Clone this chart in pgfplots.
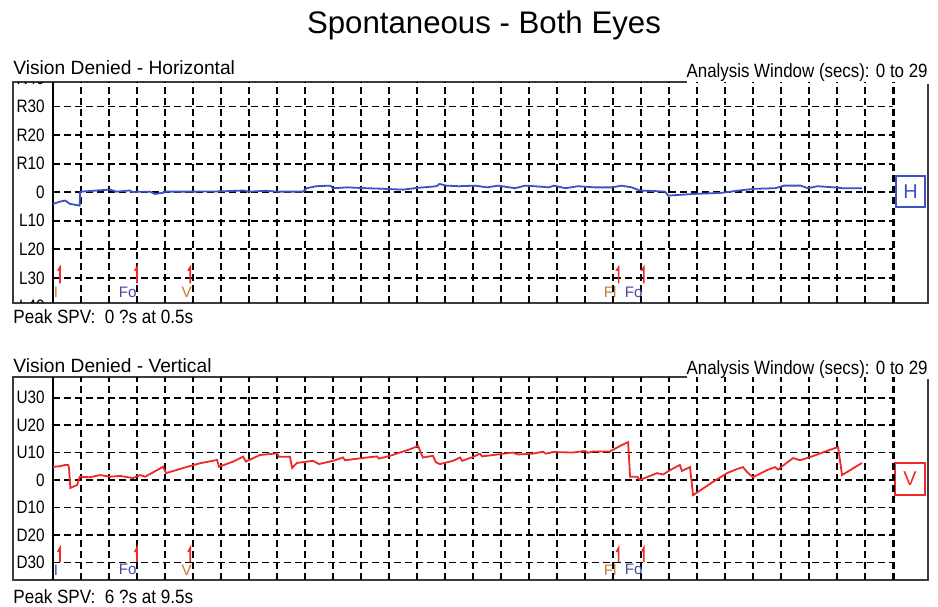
\documentclass[border=0pt]{standalone}
\usepackage{fontspec}
\setmainfont{Liberation Sans}
\usepackage{pgfplots}
\pgfplotsset{compat=1.18}
\definecolor{trblue}{RGB}{60,80,200}
\definecolor{trred}{RGB}{240,40,40}
\definecolor{evor}{RGB}{200,120,50}
\definecolor{evbl}{RGB}{70,70,160}
\definecolor{framegray}{RGB}{60,60,60}
\newcommand{\tickfont}{\fontsize{9}{10}\selectfont}
\newcommand{\evfont}{\fontsize{7.6}{8}\selectfont}
\newcommand{\labfont}{\fontsize{9.6}{11}\selectfont}
\pgfplotsset{panel/.style={
  scale only axis, xmin=0, xmax=30,
  xtick={1,...,29}, xticklabels={},
  ytick={-30,-20,...,30},
  grid=major,
  major grid style={black, line width=0.9pt, dash pattern=on 3.4pt off 2.1pt},
  major tick length=0pt,
  axis line style={draw=none},
  yticklabel style={font=\tickfont, anchor=east, xshift=-4pt, inner sep=0pt, xscale=0.85},
  clip=false,
  unbounded coords=jump,
}}
\begin{document}
\begin{tikzpicture}
\begin{scope}[x=0.5pt,y=0.5pt]
\path[use as bounding box] (0,0) rectangle (938,606);
% title
\node[font=\fontsize{15.6}{18}\selectfont] at (484,581) {Spontaneous - Both Eyes};
% ---------- top panel frame and texts
\draw[framegray, line width=0.75pt] (687,524) -- (13,524) -- (13,303) -- (928,303) -- (928,522);
\node[anchor=base west, font=\labfont, inner sep=0pt] at (13,531) {Vision Denied - Horizontal};
\node[anchor=base east, font=\labfont, inner sep=0pt, xscale=0.88] at (928,528) {Analysis Window (secs): 0 to 29};
\node[anchor=base west, font=\labfont, inner sep=0pt, xscale=0.89] at (13,282) {Peak SPV:\ \ 0 ?s at 0.5s};
\draw[trblue, line width=0.8pt] (896,430) rectangle (925,399);
\node[text=trblue, font=\fontsize{10}{12}\selectfont] at (910.5,414.5) {H};
% ---------- bottom panel frame and texts
\draw[framegray, line width=0.75pt] (687,229) -- (13,229) -- (13,26) -- (928,26) -- (928,227);
\node[anchor=base west, font=\labfont, inner sep=0pt] at (13,234) {Vision Denied - Vertical};
\node[anchor=base east, font=\labfont, inner sep=0pt, xscale=0.88] at (928,231) {Analysis Window (secs): 0 to 29};
\node[anchor=base west, font=\labfont, inner sep=0pt, xscale=0.89] at (13,3) {Peak SPV:\ \ 6 ?s at 9.5s};
\draw[trred, line width=0.8pt] (895,143) rectangle (925,111);
\node[text=trred, font=\fontsize{10}{12}\selectfont] at (910,127) {V};
\end{scope}

% ================= TOP AXIS
\begin{axis}[panel, at={(26.5pt,151.5pt)}, anchor=south west, width=420pt, height=110.5pt,
  ymin=-38.8, ymax=38.6,
  yticklabels={L30,L20,L10,0,R10,R20,R30}]
\draw[black, line width=1.5pt, dash pattern=on 3.4pt off 2.1pt] (rel axis cs:1,0) -- (rel axis cs:1,1);
\draw[black, line width=0.8pt] (rel axis cs:0,0) -- (rel axis cs:0,1);
\begin{scope}
\clip (rel axis cs:-0.06,0) rectangle (rel axis cs:0,1);
\node[anchor=east, font=\tickfont, xshift=-4pt, inner sep=0pt, xscale=0.85] at (axis cs:0,40) {R40};
\node[anchor=east, font=\tickfont, xshift=-4pt, inner sep=0pt, xscale=0.85] at (axis cs:0,-40) {L40};
\end{scope}
\addplot[trblue, line width=0.9pt] coordinates {
(0,-4.1) (0.25,-3.3) (0.43,-2.9) (0.61,-4.1) (0.79,-4.4) (0.95,-4.7)
(0.97,0.2) (1.3,0.4) (1.56,0.6) (2.04,0.9) (2.27,0.2) (2.75,0.6) (2.82,0.1)
(3.46,0.2) (3.64,-0.6) (3.94,-0.2) (4.0,0.2) (5.0,0.2) (6.0,0.3) (6.8,0.6)
(7.0,0.2) (7.6,0.5) (8.0,0.2) (8.93,0.2) (9.06,1.4) (9.4,2.1) (9.9,2.3)
(10.0,1.4) (10.5,1.7) (11.2,1.4) (11.8,1.2) (12.5,0.9) (13.0,1.5) (13.7,2.1)
(13.8,2.9) (14.05,2.3) (14.5,2.1) (15.07,2.3) (15.5,1.7) (15.9,2.3) (16.5,1.4)
(16.86,2.3) (17.2,2.1) (17.7,1.7) (17.9,2.3) (18.3,1.4) (18.75,2.1) (19.35,1.7)
(19.96,1.7) (20.3,2.3) (20.67,1.7) (20.96,0.6) (21.5,0.4) (21.86,0.2)
(21.97,-1.2) (22.4,-0.9) (22.9,-0.6) (23.9,-0.2) (24.5,0.6) (25.07,1.2)
(25.8,1.4) (26.1,2.3) (26.7,2.3) (26.96,1.4) (27.3,2.1) (27.9,1.7) (28.2,1.4) (28.9,1.4)
};
% event markers
\addplot[trred, line width=0.8pt] coordinates {
(0.17,-27.5) (0.25,-26.3) (0.25,-31.9) (0.25,nan)
(2.92,-27.5) (3.0,-26.3) (3.0,-31.9) (3.0,nan)
(4.82,-27.5) (4.9,-26.3) (4.9,-31.9) (4.9,nan)
(20.12,-27.5) (20.2,-26.3) (20.2,-31.9) (20.2,nan)
(21.02,-27.5) (21.1,-26.3) (21.1,-31.9)
};
\node[anchor=east, font=\evfont, text=evor, inner sep=0pt] at (axis cs:0.2,-35.1) {I};
\node[anchor=east, font=\evfont, text=evbl, inner sep=0pt] at (axis cs:3.0,-35.1) {Fo};
\node[anchor=east, font=\evfont, text=evor, inner sep=0pt] at (axis cs:4.97,-35.1) {V};
\node[anchor=east, font=\evfont, text=evor, inner sep=0pt] at (axis cs:20.14,-35.1) {Fl};
\node[anchor=east, font=\evfont, text=evbl, inner sep=0pt] at (axis cs:21.07,-35.1) {Fo};
\end{axis}

% ================= BOTTOM AXIS
\begin{axis}[panel, at={(26.5pt,13pt)}, anchor=south west, width=420pt, height=101.5pt,
  ymin=-36.4, ymax=37.5,
  yticklabels={D30,D20,D10,0,U10,U20,U30}]
\draw[black, line width=1.5pt, dash pattern=on 3.4pt off 2.1pt] (rel axis cs:1,0) -- (rel axis cs:1,1);
\draw[black, line width=0.8pt] (rel axis cs:0,0) -- (rel axis cs:0,1);
\addplot[trred, line width=0.9pt] coordinates {
(0,4.8) (0.25,5.0) (0.43,5.5) (0.54,5.5) (0.57,4.5) (0.62,-2.9) (0.86,-1.8)
(0.96,1.2) (1.32,1.0) (1.68,1.8) (2.04,1.2) (2.39,1.5) (2.86,0.7) (3.11,1.8)
(3.29,1.2) (3.93,4.8) (4.04,2.5) (4.79,4.8) (5.25,6.1) (5.86,7.3) (5.93,4.8)
(6.43,6.7) (6.79,8.5) (6.89,6.7) (7.39,9.1) (8.0,9.7) (8.07,8.5) (8.46,8.5)
(8.54,4.4) (8.71,6.2) (9.07,6.7) (9.29,7.0) (9.5,5.8) (10.0,7.0) (10.36,8.2)
(10.43,7.2) (11.21,8.2) (11.57,8.6) (11.64,7.8) (12.04,8.8) (12.39,10.0)
(12.75,11.2) (13.04,12.4) (13.11,10.6) (13.21,8.2) (13.57,8.8) (13.68,6.4)
(13.82,5.8) (14.29,7.0) (14.54,8.2) (14.61,7.0) (15.0,8.4) (15.25,9.6)
(15.32,8.6) (15.96,9.4) (16.43,10.0) (16.6,9.3) (17.14,9.6) (17.5,10.3) (17.6,9.6) (17.86,10.2)
(18.57,10.0) (19.0,10.6) (19.1,9.9) (19.29,10.4) (19.89,10.4) (20.25,12.4) (20.54,13.8)
(20.61,1.2) (20.86,1.2) (20.96,0.0) (21.57,2.5) (21.79,2.0) (22.04,3.6)
(22.39,5.5) (22.46,3.3) (22.75,4.7) (22.86,-5.5) (23.57,-0.7) (24.07,2.5)
(24.43,4.0) (24.64,4.7) (24.79,2.9) (25.0,1.0) (25.5,3.6) (25.79,4.7)
(25.89,3.8) (26.43,8.0) (26.68,7.2) (27.14,8.7) (27.75,11.0) (28.04,12.0)
(28.18,1.8) (28.89,6.2)
};
\addplot[trred, line width=0.8pt] coordinates {
(0.17,-26.2) (0.25,-24.7) (0.25,-29.8) (0.25,nan)
(2.92,-26.2) (3.0,-24.7) (3.0,-29.8) (3.0,nan)
(4.82,-26.2) (4.9,-24.7) (4.9,-29.8) (4.9,nan)
(20.12,-26.2) (20.2,-24.7) (20.2,-29.8) (20.2,nan)
(21.02,-26.2) (21.1,-24.7) (21.1,-29.8)
};
\node[anchor=east, font=\evfont, text=evbl, inner sep=0pt] at (axis cs:0.2,-32.7) {I};
\node[anchor=east, font=\evfont, text=evbl, inner sep=0pt] at (axis cs:3.0,-32.7) {Fo};
\node[anchor=east, font=\evfont, text=evor, inner sep=0pt] at (axis cs:4.97,-32.7) {V};
\node[anchor=east, font=\evfont, text=evor, inner sep=0pt] at (axis cs:20.14,-32.7) {Fl};
\node[anchor=east, font=\evfont, text=evbl, inner sep=0pt] at (axis cs:21.07,-32.7) {Fo};
\end{axis}
\end{tikzpicture}
\end{document}
